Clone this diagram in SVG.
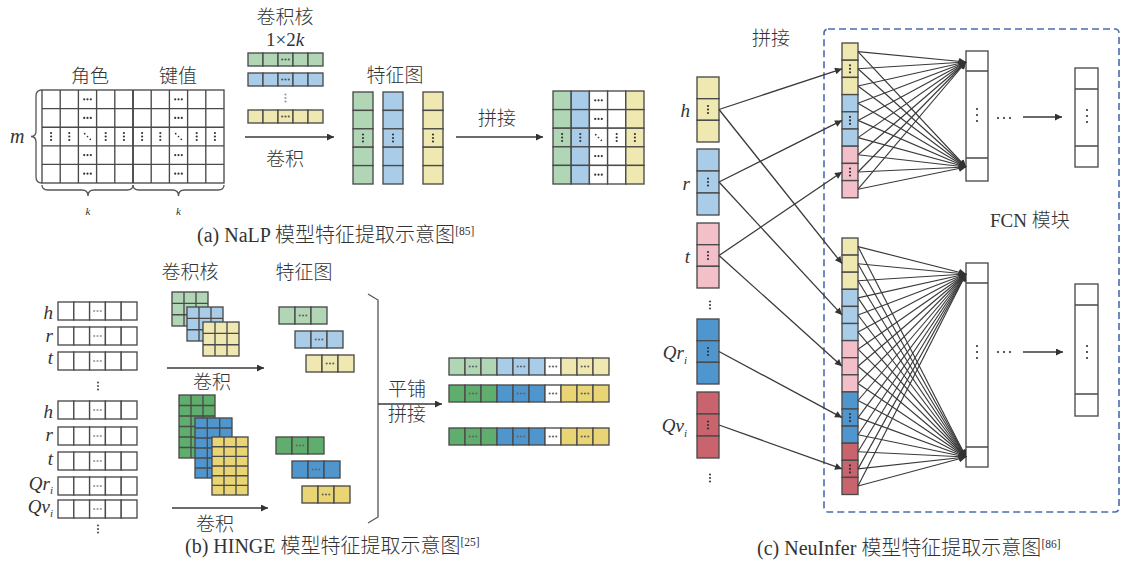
<svg xmlns="http://www.w3.org/2000/svg" xmlns:xlink="http://www.w3.org/1999/xlink" width="1121" height="565" viewBox="0 0 1121 565">
<defs>
<style>
text{font-family:"Liberation Serif","Noto Sans CJK SC",serif;fill:#333;font-size:19px;font-weight:300}
.it{font-style:italic}
.cap{font-size:20px}
.c{stroke:#4a4a4a;stroke-width:1.35}
.g1{fill:#b0d6b5}.b1{fill:#a9cde9}.y1{fill:#efe8b0}.p1{fill:#f3bfc8}
.g2{fill:#5fae6d}.b2{fill:#4f96cf}.y2{fill:#e9d574}.r2{fill:#c9646e}.w{fill:#fff}
.ln{stroke:#4a4a4a;stroke-width:1.35;fill:none}
.cn{stroke:#3a3a3a;stroke-width:1.3;fill:none;marker-end:url(#ah)}
.fc{stroke:#3a3a3a;stroke-width:1.15;fill:none;marker-end:url(#ah2)}
.br{stroke:#555;stroke-width:1.3;fill:none}
</style>
<marker id="ah" viewBox="0 0 10 10" refX="10" refY="5" markerWidth="10" markerHeight="7" markerUnits="userSpaceOnUse" orient="auto"><path d="M0,0L10,5L0,10z" fill="#333"/></marker>
<marker id="ah2" viewBox="0 0 10 10" refX="10" refY="5" markerWidth="10" markerHeight="7" markerUnits="userSpaceOnUse" orient="auto"><path d="M0,0L10,5L0,10z" fill="#333"/></marker>
<g id="hd"><circle cx="-3.3" cy="0" r="1.1"/><circle cx="0" cy="0" r="1.1"/><circle cx="3.3" cy="0" r="1.1"/></g>
<g id="vd"><circle cx="0" cy="-3.5" r="1.1"/><circle cx="0" cy="0" r="1.1"/><circle cx="0" cy="3.5" r="1.1"/></g>
<g id="dd"><circle cx="-2.8" cy="-2.8" r="0.85"/><circle cx="0" cy="0" r="0.85"/><circle cx="2.8" cy="2.8" r="0.85"/></g>
<g id="hd2"><circle cx="-6" cy="0" r="1.1"/><circle cx="0" cy="0" r="1.1"/><circle cx="6" cy="0" r="1.1"/></g>
<g id="vd2"><circle cx="0" cy="-6" r="1.1"/><circle cx="0" cy="0" r="1.1"/><circle cx="0" cy="6" r="1.1"/></g>
</defs>
<rect width="1121" height="565" fill="#fff"/>

<!-- ===== Panel (a) ===== -->
<g id="a-matrix">
<text x="90" y="83" text-anchor="middle">角色</text>
<text x="178" y="83" text-anchor="middle">键值</text>
<rect x="42" y="90" width="182" height="93" class="w c"/>
<path class="ln" d="M60.2,90V183M78.4,90V183M96.6,90V183M114.8,90V183M151.2,90V183M169.4,90V183M187.6,90V183M205.8,90V183M42,108.6H224M42,127.2H224M42,145.8H224M42,164.4H224"/>
<path d="M133,90V183" stroke="#4a4a4a" stroke-width="1.9"/>
<g fill="#333">
<use xlink:href="#hd" x="87.5" y="99.3"/><use xlink:href="#hd" x="87.5" y="117.9"/><use xlink:href="#hd" x="87.5" y="155.1"/><use xlink:href="#hd" x="87.5" y="173.7"/>
<use xlink:href="#hd" x="178.5" y="99.3"/><use xlink:href="#hd" x="178.5" y="117.9"/><use xlink:href="#hd" x="178.5" y="155.1"/><use xlink:href="#hd" x="178.5" y="173.7"/>
<use xlink:href="#vd" x="51.1" y="136.5"/><use xlink:href="#vd" x="69.3" y="136.5"/><use xlink:href="#dd" x="87.5" y="136.5"/><use xlink:href="#vd" x="105.7" y="136.5"/><use xlink:href="#vd" x="123.9" y="136.5"/>
<use xlink:href="#vd" x="142.1" y="136.5"/><use xlink:href="#vd" x="160.3" y="136.5"/><use xlink:href="#dd" x="178.5" y="136.5"/><use xlink:href="#vd" x="196.7" y="136.5"/><use xlink:href="#vd" x="214.9" y="136.5"/>
</g>
<path class="br" d="M42,90Q36,90 36,96L36,131Q36,136.5 31,136.5Q36,136.5 36,142L36,177Q36,183 42,183"/>
<text x="10" y="143" class="it" style="font-size:20px">m</text>
<path class="br" d="M42,185Q42,190 48,190L82,190Q88,190 88,196Q88,190 94,190L127,190Q133,190 133,185"/>
<path class="br" d="M133,185Q133,190 139,190L172.5,190Q178.5,190 178.5,196Q178.5,190 184.5,190L218,190Q224,190 224,185"/>
<text x="88" y="215" class="it" text-anchor="middle" style="font-size:11px">k</text>
<text x="178.5" y="215" class="it" text-anchor="middle" style="font-size:11px">k</text>
</g>

<g id="a-kernels">
<text x="285" y="24" text-anchor="middle">卷积核</text>
<text x="285" y="46" text-anchor="middle">1×2<tspan class="it">k</tspan></text>
<g class="c">
<rect x="248" y="53" width="15" height="13" class="g1"/><rect x="263" y="53" width="15" height="13" class="g1"/><rect x="278" y="53" width="15" height="13" class="g1"/><rect x="293" y="53" width="15" height="13" class="g1"/><rect x="308" y="53" width="15" height="13" class="g1"/>
<rect x="248" y="73" width="15" height="13" class="b1"/><rect x="263" y="73" width="15" height="13" class="b1"/><rect x="278" y="73" width="15" height="13" class="b1"/><rect x="293" y="73" width="15" height="13" class="b1"/><rect x="308" y="73" width="15" height="13" class="b1"/>
<rect x="248" y="110" width="15" height="13" class="y1"/><rect x="263" y="110" width="15" height="13" class="y1"/><rect x="278" y="110" width="15" height="13" class="y1"/><rect x="293" y="110" width="15" height="13" class="y1"/><rect x="308" y="110" width="15" height="13" class="y1"/>
</g>
<g fill="#555"><use xlink:href="#hd" x="285.5" y="59.5"/><use xlink:href="#hd" x="285.5" y="79.5"/><use xlink:href="#hd" x="285.5" y="116.5"/></g>
<g fill="#999"><use xlink:href="#vd" x="285.5" y="98"/></g>
<text x="285" y="166" text-anchor="middle">卷积</text>
</g>

<g id="a-features">
<text x="395" y="82" text-anchor="middle">特征图</text>
<g class="c">
<rect x="353" y="92" width="20" height="18.4" class="g1"/><rect x="353" y="110.4" width="20" height="18.4" class="g1"/><rect x="353" y="128.8" width="20" height="18.4" class="g1"/><rect x="353" y="147.2" width="20" height="18.4" class="g1"/><rect x="353" y="165.6" width="20" height="18.4" class="g1"/>
<rect x="383" y="92" width="20" height="18.4" class="b1"/><rect x="383" y="110.4" width="20" height="18.4" class="b1"/><rect x="383" y="128.8" width="20" height="18.4" class="b1"/><rect x="383" y="147.2" width="20" height="18.4" class="b1"/><rect x="383" y="165.6" width="20" height="18.4" class="b1"/>
<rect x="423" y="92" width="20" height="18.4" class="y1"/><rect x="423" y="110.4" width="20" height="18.4" class="y1"/><rect x="423" y="128.8" width="20" height="18.4" class="y1"/><rect x="423" y="147.2" width="20" height="18.4" class="y1"/><rect x="423" y="165.6" width="20" height="18.4" class="y1"/>
</g>
<g fill="#333"><use xlink:href="#vd" x="363" y="138"/><use xlink:href="#vd" x="393" y="138"/><use xlink:href="#vd" x="433" y="138"/></g>
</g>

<g id="a-concat">
<text x="497" y="125" text-anchor="middle">拼接</text>
<g class="c">
<rect x="553" y="91" width="18.2" height="18.6" class="g1"/><rect x="553" y="109.6" width="18.2" height="18.6" class="g1"/><rect x="553" y="128.2" width="18.2" height="18.6" class="g1"/><rect x="553" y="146.8" width="18.2" height="18.6" class="g1"/><rect x="553" y="165.4" width="18.2" height="18.6" class="g1"/>
<rect x="571.2" y="91" width="18.2" height="18.6" class="b1"/><rect x="571.2" y="109.6" width="18.2" height="18.6" class="b1"/><rect x="571.2" y="128.2" width="18.2" height="18.6" class="b1"/><rect x="571.2" y="146.8" width="18.2" height="18.6" class="b1"/><rect x="571.2" y="165.4" width="18.2" height="18.6" class="b1"/>
<rect x="589.4" y="91" width="18.2" height="18.6" class="w"/><rect x="589.4" y="109.6" width="18.2" height="18.6" class="w"/><rect x="589.4" y="128.2" width="18.2" height="18.6" class="w"/><rect x="589.4" y="146.8" width="18.2" height="18.6" class="w"/><rect x="589.4" y="165.4" width="18.2" height="18.6" class="w"/>
<rect x="607.6" y="91" width="18.2" height="18.6" class="w"/><rect x="607.6" y="109.6" width="18.2" height="18.6" class="w"/><rect x="607.6" y="128.2" width="18.2" height="18.6" class="w"/><rect x="607.6" y="146.8" width="18.2" height="18.6" class="w"/><rect x="607.6" y="165.4" width="18.2" height="18.6" class="w"/>
<rect x="625.8" y="91" width="18.2" height="18.6" class="y1"/><rect x="625.8" y="109.6" width="18.2" height="18.6" class="y1"/><rect x="625.8" y="128.2" width="18.2" height="18.6" class="y1"/><rect x="625.8" y="146.8" width="18.2" height="18.6" class="y1"/><rect x="625.8" y="165.4" width="18.2" height="18.6" class="y1"/>
</g>
<g fill="#333">
<use xlink:href="#hd" x="598.5" y="100.3"/><use xlink:href="#hd" x="598.5" y="118.9"/><use xlink:href="#hd" x="598.5" y="156.1"/><use xlink:href="#hd" x="598.5" y="174.7"/>
<use xlink:href="#vd" x="562.1" y="137.5"/><use xlink:href="#vd" x="580.3" y="137.5"/><use xlink:href="#dd" x="598.5" y="137.5"/><use xlink:href="#vd" x="616.7" y="137.5"/><use xlink:href="#vd" x="634.9" y="137.5"/>
</g>
</g>
<text x="197" y="242" class="cap">(a) NaLP 模型特征提取示意图<tspan dy="-7" style="font-size:11.5px">[85]</tspan></text>

<!-- ===== Panel (b) ===== -->
<g id="b-inputs">
<g class="c">
<rect x="58" y="302" width="15.8" height="18" class="w"/><rect x="73.8" y="302" width="15.8" height="18" class="w"/><rect x="89.6" y="302" width="15.8" height="18" class="w"/><rect x="105.4" y="302" width="15.8" height="18" class="w"/><rect x="121.2" y="302" width="15.8" height="18" class="w"/>
<rect x="58" y="327" width="15.8" height="18" class="w"/><rect x="73.8" y="327" width="15.8" height="18" class="w"/><rect x="89.6" y="327" width="15.8" height="18" class="w"/><rect x="105.4" y="327" width="15.8" height="18" class="w"/><rect x="121.2" y="327" width="15.8" height="18" class="w"/>
<rect x="58" y="352" width="15.8" height="18" class="w"/><rect x="73.8" y="352" width="15.8" height="18" class="w"/><rect x="89.6" y="352" width="15.8" height="18" class="w"/><rect x="105.4" y="352" width="15.8" height="18" class="w"/><rect x="121.2" y="352" width="15.8" height="18" class="w"/>
<rect x="58" y="401" width="15.8" height="18" class="w"/><rect x="73.8" y="401" width="15.8" height="18" class="w"/><rect x="89.6" y="401" width="15.8" height="18" class="w"/><rect x="105.4" y="401" width="15.8" height="18" class="w"/><rect x="121.2" y="401" width="15.8" height="18" class="w"/>
<rect x="58" y="427" width="15.8" height="18" class="w"/><rect x="73.8" y="427" width="15.8" height="18" class="w"/><rect x="89.6" y="427" width="15.8" height="18" class="w"/><rect x="105.4" y="427" width="15.8" height="18" class="w"/><rect x="121.2" y="427" width="15.8" height="18" class="w"/>
<rect x="58" y="452" width="15.8" height="18" class="w"/><rect x="73.8" y="452" width="15.8" height="18" class="w"/><rect x="89.6" y="452" width="15.8" height="18" class="w"/><rect x="105.4" y="452" width="15.8" height="18" class="w"/><rect x="121.2" y="452" width="15.8" height="18" class="w"/>
<rect x="58" y="477" width="15.8" height="18" class="w"/><rect x="73.8" y="477" width="15.8" height="18" class="w"/><rect x="89.6" y="477" width="15.8" height="18" class="w"/><rect x="105.4" y="477" width="15.8" height="18" class="w"/><rect x="121.2" y="477" width="15.8" height="18" class="w"/>
<rect x="58" y="500" width="15.8" height="18" class="w"/><rect x="73.8" y="500" width="15.8" height="18" class="w"/><rect x="89.6" y="500" width="15.8" height="18" class="w"/><rect x="105.4" y="500" width="15.8" height="18" class="w"/><rect x="121.2" y="500" width="15.8" height="18" class="w"/>
</g>
<g fill="#999">
<use xlink:href="#hd" x="97.5" y="311"/><use xlink:href="#hd" x="97.5" y="336"/><use xlink:href="#hd" x="97.5" y="361"/><use xlink:href="#hd" x="97.5" y="410"/><use xlink:href="#hd" x="97.5" y="436"/><use xlink:href="#hd" x="97.5" y="461"/><use xlink:href="#hd" x="97.5" y="486"/><use xlink:href="#hd" x="97.5" y="509"/>
</g>
<g fill="#555"><use xlink:href="#vd" x="98" y="386"/><use xlink:href="#vd" x="98" y="529"/></g>
<g class="it" text-anchor="end" style="font-size:20px">
<text x="53" y="319">h</text><text x="53" y="342">r</text><text x="53" y="364">t</text>
<text x="53" y="418">h</text><text x="53" y="441">r</text><text x="53" y="465">t</text>
<text x="53" y="490">Q<tspan>r</tspan><tspan dy="4" style="font-size:11px">i</tspan></text>
<text x="53" y="513">Q<tspan>v</tspan><tspan dy="4" style="font-size:11px">i</tspan></text>
</g>
</g>

<g id="b-kernels">
<text x="190" y="279" text-anchor="middle">卷积核</text>
<rect x="172" y="292" width="36" height="34" class="g1 c"/><path class="ln" d="M184,292V326M196,292V326M172,303.3H208M172,314.7H208"/>
<rect x="187" y="307" width="36" height="34" class="b1 c"/><path class="ln" d="M199,307V341M211,307V341M187,318.3H223M187,329.7H223"/>
<rect x="203" y="322" width="36" height="34" class="y1 c"/><path class="ln" d="M215,322V356M227,322V356M203,333.3H239M203,344.7H239"/>
<text x="212" y="389" text-anchor="middle">卷积</text>
<rect x="179" y="395" width="36" height="63" class="g2 c"/><path class="ln" d="M191,395V458M203,395V458M179,405.5H215M179,416H215M179,426.5H215M179,437H215M179,447.5H215"/>
<rect x="195" y="418" width="37" height="60" class="b2 c"/><path class="ln" d="M207.3,418V478M219.7,418V478M195,428H232M195,438H232M195,448H232M195,458H232M195,468H232"/>
<rect x="212" y="437" width="36" height="58" class="y2 c"/><path class="ln" d="M224,437V495M236,437V495M212,446.7H248M212,456.3H248M212,466H248M212,475.7H248M212,485.3H248"/>
<text x="215" y="531" text-anchor="middle">卷积</text>
</g>

<g id="b-features">
<text x="304" y="279" text-anchor="middle">特征图</text>
<g class="c">
<rect x="279" y="307" width="16" height="17" class="g1"/><rect x="295" y="307" width="16" height="17" class="g1"/><rect x="311" y="307" width="16" height="17" class="g1"/>
<rect x="295" y="331" width="16" height="17" class="b1"/><rect x="311" y="331" width="16" height="17" class="b1"/><rect x="327" y="331" width="16" height="17" class="b1"/>
<rect x="306" y="355" width="16" height="17" class="y1"/><rect x="322" y="355" width="16" height="17" class="y1"/><rect x="338" y="355" width="16" height="17" class="y1"/>
<rect x="276" y="437" width="16" height="17" class="g2"/><rect x="292" y="437" width="16" height="17" class="g2"/><rect x="308" y="437" width="16" height="17" class="g2"/>
<rect x="292" y="461" width="16" height="17" class="b2"/><rect x="308" y="461" width="16" height="17" class="b2"/><rect x="324" y="461" width="16" height="17" class="b2"/>
<rect x="302" y="486" width="16" height="17" class="y2"/><rect x="318" y="486" width="16" height="17" class="y2"/><rect x="334" y="486" width="16" height="17" class="y2"/>
</g>
<g fill="#666">
<use xlink:href="#hd" x="303" y="315.5"/><use xlink:href="#hd" x="319" y="339.5"/><use xlink:href="#hd" x="330" y="363.5"/>
<use xlink:href="#hd" x="300" y="445.5"/><use xlink:href="#hd" x="316" y="469.5"/><use xlink:href="#hd" x="326" y="494.5"/>
</g>
<path class="br" d="M368,294L378,300L378,517L368,523"/>
</g>

<g id="b-result">
<text x="388" y="396">平铺</text>
<text x="388" y="421">拼接</text>
<g class="c">
<rect x="449" y="358" width="16" height="17" class="g1"/><rect x="465" y="358" width="16" height="17" class="g1"/><rect x="481" y="358" width="16" height="17" class="g1"/><rect x="497" y="358" width="16" height="17" class="b1"/><rect x="513" y="358" width="16" height="17" class="b1"/><rect x="529" y="358" width="16" height="17" class="b1"/><rect x="545" y="358" width="16" height="17" class="w"/><rect x="561" y="358" width="16" height="17" class="y1"/><rect x="577" y="358" width="16" height="17" class="y1"/><rect x="593" y="358" width="16" height="17" class="y1"/>
<rect x="449" y="385" width="16" height="17" class="g2"/><rect x="465" y="385" width="16" height="17" class="g2"/><rect x="481" y="385" width="16" height="17" class="g2"/><rect x="497" y="385" width="16" height="17" class="b2"/><rect x="513" y="385" width="16" height="17" class="b2"/><rect x="529" y="385" width="16" height="17" class="b2"/><rect x="545" y="385" width="16" height="17" class="w"/><rect x="561" y="385" width="16" height="17" class="y2"/><rect x="577" y="385" width="16" height="17" class="y2"/><rect x="593" y="385" width="16" height="17" class="y2"/>
<rect x="449" y="428" width="16" height="17" class="g2"/><rect x="465" y="428" width="16" height="17" class="g2"/><rect x="481" y="428" width="16" height="17" class="g2"/><rect x="497" y="428" width="16" height="17" class="b2"/><rect x="513" y="428" width="16" height="17" class="b2"/><rect x="529" y="428" width="16" height="17" class="b2"/><rect x="545" y="428" width="16" height="17" class="w"/><rect x="561" y="428" width="16" height="17" class="y2"/><rect x="577" y="428" width="16" height="17" class="y2"/><rect x="593" y="428" width="16" height="17" class="y2"/>
</g>
<g fill="#666">
<use xlink:href="#hd" x="473" y="366.5"/><use xlink:href="#hd" x="521" y="366.5"/><use xlink:href="#hd" x="553" y="366.5"/><use xlink:href="#hd" x="585" y="366.5"/>
<use xlink:href="#hd" x="473" y="393.5"/><use xlink:href="#hd" x="521" y="393.5"/><use xlink:href="#hd" x="553" y="393.5"/><use xlink:href="#hd" x="585" y="393.5"/>
<use xlink:href="#hd" x="473" y="436.5"/><use xlink:href="#hd" x="521" y="436.5"/><use xlink:href="#hd" x="553" y="436.5"/><use xlink:href="#hd" x="585" y="436.5"/>
</g>
</g>
<text x="185" y="553" class="cap">(b) HINGE 模型特征提取示意图<tspan dy="-7" style="font-size:11.5px">[25]</tspan></text>

<!-- ===== Panel (c) ===== -->
<rect id="c-fcn-frame" x="824" y="29" width="295" height="483" rx="4" fill="none" stroke="#4a6cb0" stroke-width="1.6" stroke-dasharray="7,4"/>
<text x="752" y="45">拼接</text>

<g id="c-inputs">
<g class="c">
<rect x="697" y="77" width="22" height="21.7" class="y1"/><rect x="697" y="98.7" width="22" height="21.6" class="y1"/><rect x="697" y="120.3" width="22" height="21.7" class="y1"/>
<rect x="697" y="149" width="22" height="22" class="b1"/><rect x="697" y="171" width="22" height="22" class="b1"/><rect x="697" y="193" width="22" height="22" class="b1"/>
<rect x="697" y="223" width="22" height="21.7" class="p1"/><rect x="697" y="244.7" width="22" height="21.6" class="p1"/><rect x="697" y="266.3" width="22" height="21.7" class="p1"/>
<rect x="697" y="319" width="22" height="21.7" class="b2"/><rect x="697" y="340.7" width="22" height="21.6" class="b2"/><rect x="697" y="362.3" width="22" height="21.7" class="b2"/>
<rect x="697" y="392" width="22" height="22" class="r2"/><rect x="697" y="414" width="22" height="22" class="r2"/><rect x="697" y="436" width="22" height="22" class="r2"/>
</g>
<g fill="#333"><use xlink:href="#vd" x="708" y="109.5"/><use xlink:href="#vd" x="708" y="182"/><use xlink:href="#vd" x="708" y="255.5"/><use xlink:href="#vd" x="708" y="351.5"/><use xlink:href="#vd" x="708" y="425"/></g>
<g fill="#444"><use xlink:href="#vd" x="710" y="305"/><use xlink:href="#vd" x="710" y="478"/></g>
<g class="it" text-anchor="end" style="font-size:20px">
<text x="690" y="117">h</text><text x="690" y="190">r</text><text x="690" y="263">t</text>
<text x="687" y="359">Q<tspan>r</tspan><tspan dy="5" style="font-size:11px">i</tspan></text>
<text x="687" y="432">Q<tspan>v</tspan><tspan dy="5" style="font-size:11px">i</tspan></text>
</g>
</g>

<g id="c-concat-top">
<g class="c">
<rect x="842" y="43" width="16" height="17.2" class="y1"/><rect x="842" y="60.2" width="16" height="17.2" class="y1"/><rect x="842" y="77.4" width="16" height="17.2" class="y1"/>
<rect x="842" y="94.6" width="16" height="17.2" class="b1"/><rect x="842" y="111.8" width="16" height="17.2" class="b1"/><rect x="842" y="129" width="16" height="17.2" class="b1"/>
<rect x="842" y="146.2" width="16" height="17.2" class="p1"/><rect x="842" y="163.4" width="16" height="17.2" class="p1"/><rect x="842" y="180.6" width="16" height="17.2" class="p1"/>
</g>
<g fill="#333"><use xlink:href="#vd" x="850" y="68.8"/><use xlink:href="#vd" x="850" y="120.4"/><use xlink:href="#vd" x="850" y="172"/></g>
</g>

<g id="c-concat-bottom">
<g class="c">
<rect x="842" y="238" width="16" height="17.1" class="y1"/><rect x="842" y="255.1" width="16" height="17.1" class="y1"/><rect x="842" y="272.2" width="16" height="17.1" class="y1"/>
<rect x="842" y="289.3" width="16" height="17.1" class="b1"/><rect x="842" y="306.4" width="16" height="17.1" class="b1"/><rect x="842" y="323.5" width="16" height="17.1" class="b1"/>
<rect x="842" y="340.6" width="16" height="17.1" class="p1"/><rect x="842" y="357.7" width="16" height="17.1" class="p1"/><rect x="842" y="374.8" width="16" height="17.1" class="p1"/>
<rect x="842" y="391.9" width="16" height="17.1" class="b2"/><rect x="842" y="409" width="16" height="17.1" class="b2"/><rect x="842" y="426.1" width="16" height="17.1" class="b2"/>
<rect x="842" y="443.2" width="16" height="17.1" class="r2"/><rect x="842" y="460.3" width="16" height="17.1" class="r2"/><rect x="842" y="477.4" width="16" height="17.1" class="r2"/>
</g>
<g fill="#333"><use xlink:href="#vd" x="850" y="417.6"/><use xlink:href="#vd" x="850" y="468.9"/></g>
</g>

<g id="c-fcn-top">
<rect x="966" y="51" width="22" height="130" class="w c"/><path class="ln" d="M966,71H988M966,158H988"/>
<g fill="#333"><use xlink:href="#vd2" x="977" y="115"/><use xlink:href="#hd2" x="1004" y="118"/></g>
<rect x="1075" y="68" width="23" height="99" class="w c"/><path class="ln" d="M1075,89H1098M1075,146H1098"/>
<g fill="#333"><use xlink:href="#vd2" x="1087" y="116"/></g>
</g>
<g id="c-fcn-bottom">
<rect x="966" y="263" width="22" height="204" class="w c"/><path class="ln" d="M966,283H988M966,447H988"/>
<g fill="#333"><use xlink:href="#vd2" x="977" y="352"/><use xlink:href="#hd2" x="1004" y="352"/></g>
<rect x="1075" y="284" width="23" height="132" class="w c"/><path class="ln" d="M1075,305H1098M1075,394H1098"/>
<g fill="#333"><use xlink:href="#vd2" x="1087" y="352"/></g>
</g>
<text x="990" y="227">FCN 模块</text>
<text x="757" y="555" class="cap">(c) NeuInfer 模型特征提取示意图<tspan dy="-7" style="font-size:11.5px">[86]</tspan></text>

<!-- ===== Connectors ===== -->
<g id="connectors">
<line class="cn" x1="245" y1="137" x2="334" y2="137"/>
<line class="cn" x1="456" y1="137" x2="543" y2="137"/>
<line class="cn" x1="167" y1="368" x2="264" y2="368"/>
<line class="cn" x1="172" y1="508" x2="268" y2="508"/>
<line class="cn" x1="378" y1="404" x2="442" y2="404"/>
<line class="cn" x1="719" y1="109.5" x2="842" y2="68.8"/>
<line class="cn" x1="719" y1="109.5" x2="842" y2="263.6"/>
<line class="cn" x1="719" y1="182" x2="842" y2="120.4"/>
<line class="cn" x1="719" y1="182" x2="842" y2="314.9"/>
<line class="cn" x1="719" y1="255.5" x2="842" y2="172"/>
<line class="cn" x1="719" y1="255.5" x2="842" y2="366.2"/>
<line class="cn" x1="719" y1="351.5" x2="842" y2="417.6"/>
<line class="cn" x1="719" y1="425" x2="842" y2="468.9"/>
<line class="cn" x1="1023" y1="117" x2="1062" y2="117"/>
<line class="cn" x1="1023" y1="352" x2="1063" y2="352"/>
<g>
<line class="fc" x1="858" y1="51.6" x2="966" y2="62"/><line class="fc" x1="858" y1="51.6" x2="966" y2="167"/>
<line class="fc" x1="858" y1="68.8" x2="966" y2="62"/><line class="fc" x1="858" y1="68.8" x2="966" y2="167"/>
<line class="fc" x1="858" y1="86" x2="966" y2="62"/><line class="fc" x1="858" y1="86" x2="966" y2="167"/>
<line class="fc" x1="858" y1="103.2" x2="966" y2="62"/><line class="fc" x1="858" y1="103.2" x2="966" y2="167"/>
<line class="fc" x1="858" y1="120.4" x2="966" y2="62"/><line class="fc" x1="858" y1="120.4" x2="966" y2="167"/>
<line class="fc" x1="858" y1="137.6" x2="966" y2="62"/><line class="fc" x1="858" y1="137.6" x2="966" y2="167"/>
<line class="fc" x1="858" y1="154.8" x2="966" y2="62"/><line class="fc" x1="858" y1="154.8" x2="966" y2="167"/>
<line class="fc" x1="858" y1="172" x2="966" y2="62"/><line class="fc" x1="858" y1="172" x2="966" y2="167"/>
<line class="fc" x1="858" y1="189.2" x2="966" y2="62"/><line class="fc" x1="858" y1="189.2" x2="966" y2="167"/>
</g>
<g>
<line class="fc" x1="858" y1="246.6" x2="966" y2="274"/><line class="fc" x1="858" y1="246.6" x2="966" y2="457"/>
<line class="fc" x1="858" y1="263.7" x2="966" y2="274"/><line class="fc" x1="858" y1="263.7" x2="966" y2="457"/>
<line class="fc" x1="858" y1="280.8" x2="966" y2="274"/><line class="fc" x1="858" y1="280.8" x2="966" y2="457"/>
<line class="fc" x1="858" y1="297.9" x2="966" y2="274"/><line class="fc" x1="858" y1="297.9" x2="966" y2="457"/>
<line class="fc" x1="858" y1="315" x2="966" y2="274"/><line class="fc" x1="858" y1="315" x2="966" y2="457"/>
<line class="fc" x1="858" y1="332.1" x2="966" y2="274"/><line class="fc" x1="858" y1="332.1" x2="966" y2="457"/>
<line class="fc" x1="858" y1="349.2" x2="966" y2="274"/><line class="fc" x1="858" y1="349.2" x2="966" y2="457"/>
<line class="fc" x1="858" y1="366.3" x2="966" y2="274"/><line class="fc" x1="858" y1="366.3" x2="966" y2="457"/>
<line class="fc" x1="858" y1="383.4" x2="966" y2="274"/><line class="fc" x1="858" y1="383.4" x2="966" y2="457"/>
<line class="fc" x1="858" y1="400.5" x2="966" y2="274"/><line class="fc" x1="858" y1="400.5" x2="966" y2="457"/>
<line class="fc" x1="858" y1="417.6" x2="966" y2="274"/><line class="fc" x1="858" y1="417.6" x2="966" y2="457"/>
<line class="fc" x1="858" y1="434.7" x2="966" y2="274"/><line class="fc" x1="858" y1="434.7" x2="966" y2="457"/>
<line class="fc" x1="858" y1="451.8" x2="966" y2="274"/><line class="fc" x1="858" y1="451.8" x2="966" y2="457"/>
<line class="fc" x1="858" y1="468.9" x2="966" y2="274"/><line class="fc" x1="858" y1="468.9" x2="966" y2="457"/>
<line class="fc" x1="858" y1="486" x2="966" y2="274"/><line class="fc" x1="858" y1="486" x2="966" y2="457"/>
</g>
</g>
</svg>
